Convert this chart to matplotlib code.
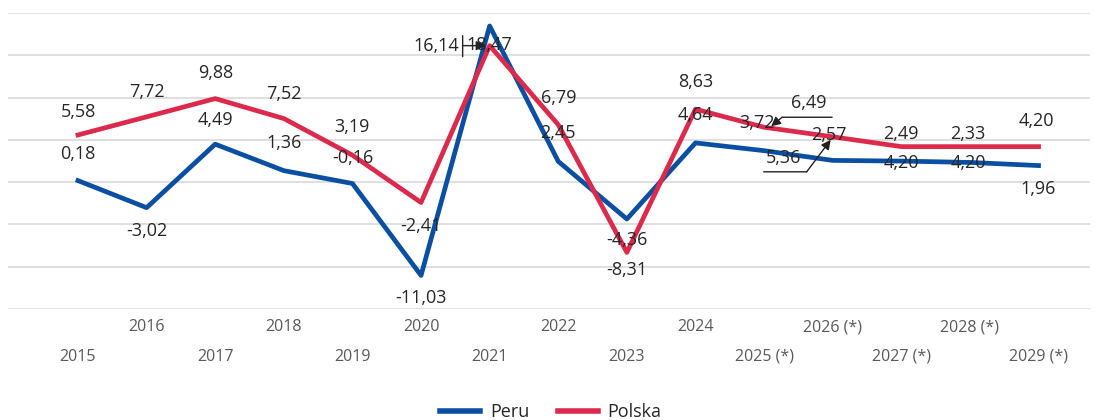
import matplotlib
matplotlib.use("Agg")
import matplotlib.pyplot as plt
from matplotlib.transforms import offset_copy
from matplotlib.lines import Line2D

years = ["2015", "2016", "2017", "2018", "2019", "2020", "2021", "2022",
         "2023", "2024", "2025 (*)", "2026 (*)", "2027 (*)", "2028 (*)", "2029 (*)"]
peru = [0.18, -3.02, 4.49, 1.36, -0.16, -11.03, 18.47, 2.45, -4.36, 4.64,
        3.72, 2.57, 2.49, 2.33, 1.96]
polska = [5.58, 7.72, 9.88, 7.52, 3.19, -2.41, 16.14, 6.79, -8.31, 8.63,
          6.49, 5.36, 4.20, 4.20, 4.20]

BLUE = "#0b4fa3"
RED = "#dc2a4c"
TXT = "#262626"
GRID = "#d9d9d9"

# label offsets in pixels (dx, dy with y downward), per point
peru_off = [(0, -27), (0, 23), (0, -24), (0, -28), (0, -25), (0, 23), (0, 19),
            (0, -28), (0, 21), (0, -28), (-7, -28), (-4, -25), (0, -27),
            (-2, -28), (0, 23)]
pol_off = [(0, -23), (0, -25), (0, -26), (0, -25), (0, -28), (0, 23), (-53, 0),
           (0, -27), (0, 18), (0, -27), (45, -24), (-49, 21), (0, 16),
           (-2, 16), (-2, -26)]

fig = plt.figure(figsize=(10.94, 4.20), dpi=100)
ax = fig.add_axes([8 / 1094, 1 - 309 / 420, 1082 / 1094, 296 / 420])

x = list(range(len(years)))
ax.plot(x, peru, color=BLUE, lw=3.4, solid_joinstyle="round", label="Peru", zorder=3)
ax.plot(x, polska, color=RED, lw=3.4, solid_joinstyle="round", label="Polska", zorder=4)

ax.set_xlim(-1.02, 14.75)
ax.set_ylim(-15, 20)
ax.set_yticks([-15, -10, -5, 0, 5, 10, 15, 20])
ax.yaxis.grid(True, color=GRID, lw=1.2)
ax.set_axisbelow(True)
ax.tick_params(axis="y", length=0, labelleft=False)
for s in ax.spines.values():
    s.set_visible(False)

# two-row x labels
ax.set_xticks(x[0::2])
ax.set_xticklabels(years[0::2])
ax.set_xticks(x[1::2], minor=True)
ax.set_xticklabels(years[1::2], minor=True)
ax.tick_params(axis="x", which="major", length=0, pad=28.5, labelsize=11.5,
               labelcolor="#595959")
ax.tick_params(axis="x", which="minor", length=0, pad=7.5, labelsize=11.5,
               labelcolor="#595959")
for lab in ax.get_xticklabels() + ax.get_xticklabels(minor=True):
    lab.set_family("Open Sans")


def fmt(v):
    return f"{v:.2f}".replace(".", ",")


def lab(i, v, off):
    ax.annotate(fmt(v), (i, v), xytext=(off[0] * 0.72, -off[1] * 0.72),
                textcoords="offset points", ha="center", va="center",
                fontsize=13, color=TXT, family="Open Sans", zorder=6)


for i, v in enumerate(peru):
    lab(i, v, peru_off[i])
for i, v in enumerate(polska):
    lab(i, v, pol_off[i])


def seg(i, v, p1, p2, arrow=False):
    t1 = offset_copy(ax.transData, fig=fig, x=p1[0], y=-p1[1], units="dots")
    t2 = offset_copy(ax.transData, fig=fig, x=p2[0], y=-p2[1], units="dots")
    style = "-|>" if arrow else "-"
    ax.annotate("", xy=(i, v), xycoords=t2, xytext=(i, v), textcoords=t1,
                arrowprops=dict(arrowstyle=style, color="#222222", lw=1.0,
                                shrinkA=0, shrinkB=0, mutation_scale=14),
                zorder=7)


# leader lines
seg(6, polska[6], (-27, -10), (-27, 11))
seg(6, polska[6], (-27, 0), (-4, 0), arrow=True)
seg(10, polska[10], (68, -10), (18, -10))
seg(10, polska[10], (18, -10), (7, -1), arrow=True)
seg(11, polska[11], (-69, 35), (-26, 35))
seg(11, polska[11], (-26, 35), (-2, 3), arrow=True)

handles = [Line2D([], [], color=BLUE, lw=4), Line2D([], [], color=RED, lw=4)]
fig.legend(handles, ["Peru", "Polska"], loc="center", bbox_to_anchor=(551 / 1094, 1 - 412 / 420),
           ncol=2, frameon=False, prop={"family": "Open Sans", "size": 13},
           handlelength=2.2, handletextpad=0.55, columnspacing=1.6,
           labelcolor=TXT)

fig.savefig("out.png", dpi=100)
